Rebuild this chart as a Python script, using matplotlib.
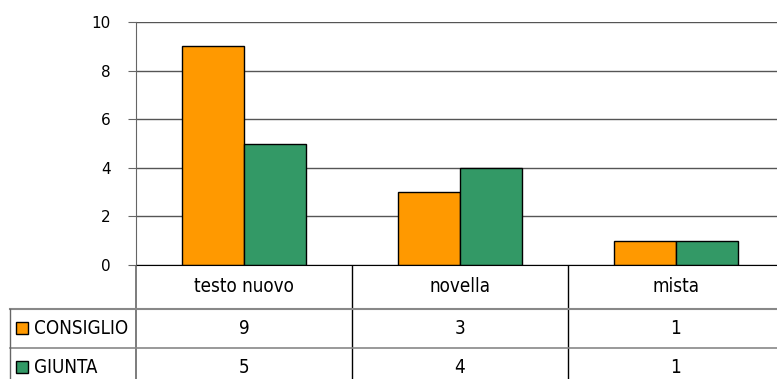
import matplotlib.pyplot as plt
import numpy as np
from matplotlib.patches import Rectangle

categorie = ['testo nuovo', 'novella', 'mista']
serie = ['CONSIGLIO', 'GIUNTA']
consiglio = [9, 3, 1]
giunta = [5, 4, 1]
colori = ['#FF9900', '#339966']
yticks = [0, 2, 4, 6, 8, 10]

plt.rcParams['font.family'] = ['DejaVu Sans']

W, H = 777, 379
fig = plt.figure(figsize=(W / 100, H / 100), dpi=100)

# plot area in pixels (runs a bit past the right edge)
x0, x1, y0, y1 = 136, 784, 265, 22
ax = fig.add_axes([x0 / W, 1 - y0 / H, (x1 - x0) / W, (y0 - y1) / H])

x = np.arange(len(categorie))
w = 0.287
ax.bar(x - w / 2, consiglio, w, color=colori[0], edgecolor='black', linewidth=1, zorder=3)
ax.bar(x + w / 2, giunta, w, color=colori[1], edgecolor='black', linewidth=1, zorder=3)
ax.set_xlim(-0.5, len(categorie) - 0.5)
ax.set_ylim(0, 10)
ax.set_yticks(yticks)
ax.set_xticks([])
ax.yaxis.grid(True, color='#555555', linewidth=1, zorder=0)
for s in ['top', 'right']:
    ax.spines[s].set_visible(False)
ax.spines['left'].set_color('#666666')
ax.spines['bottom'].set_color('black')
ax.spines['bottom'].set_zorder(4)
ax.tick_params(axis='y', length=6, color='#666666', labelsize=11, pad=12)

# data table below the plot, drawn in pixel units
tab = fig.add_axes([0, 0, 1, 1 - y0 / H])
tab.set_xlim(0, W)
tab.set_ylim(H, y0)
tab.axis('off')

fs = 13.5
cond = dict(fontsize=fs, fontstretch='condensed')
col_w = (x1 - x0) / len(categorie)
r1, r2, r3 = 309, 348, 387
tab.plot([x0, x0], [y0, H], color='#666666', lw=1.2)
for i in range(1, len(categorie)):
    tab.plot([x0 + i * col_w] * 2, [y0, H], color='black', lw=1)
tab.plot([10, W], [r1, r1], color='#888888', lw=1.5)
tab.plot([10, W], [r2, r2], color='#888888', lw=1.2)
tab.plot([10, 10], [r1, H], color='#666666', lw=1)

for i, c in enumerate(categorie):
    cx = x0 + (i + 0.5) * col_w
    tab.text(cx, (y0 + r1) / 2, c, ha='center', va='center', **cond)
    tab.text(cx, (r1 + r2) / 2, str(consiglio[i]), ha='center', va='center', **cond)
    tab.text(cx, (r2 + r3) / 2, str(giunta[i]), ha='center', va='center', **cond)

for j, (nome, col) in enumerate(zip(serie, colori)):
    top, bot = [(r1, r2), (r2, r3)][j]
    cy = (top + bot) / 2
    tab.add_patch(Rectangle((16, cy - 6), 12, 12, facecolor=col, edgecolor='black', lw=1, clip_on=False))
    tab.text(34, cy, nome, ha='left', va='center', **cond)

fig.savefig('out.png', dpi=100)
